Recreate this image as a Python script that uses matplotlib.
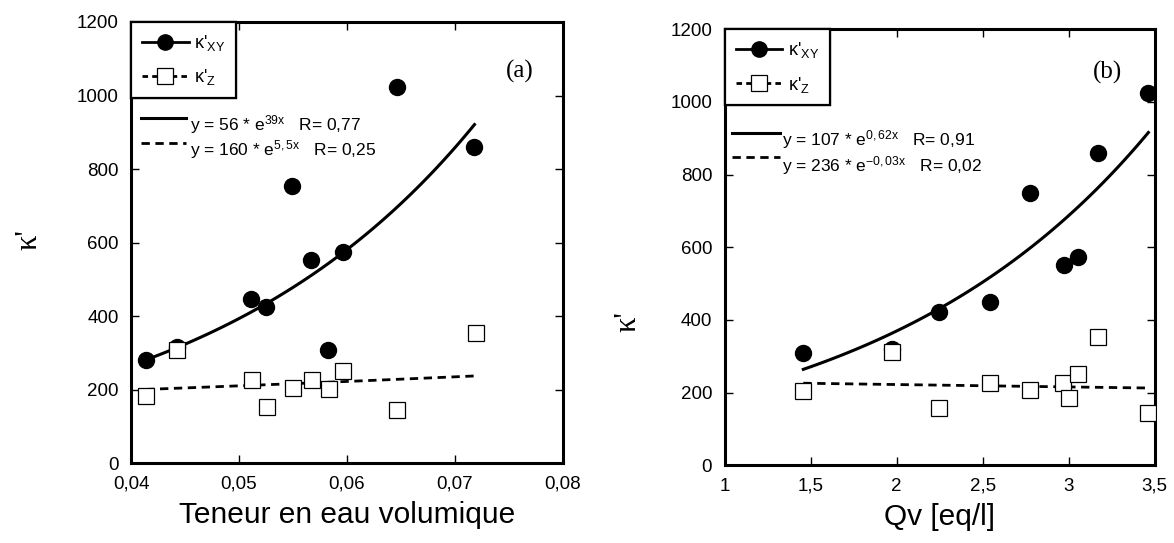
import numpy as np
import matplotlib
matplotlib.use("Agg")
import matplotlib.pyplot as plt
from matplotlib.lines import Line2D
from matplotlib.ticker import FuncFormatter, MultipleLocator

plt.rcParams['font.family'] = ['Liberation Sans', 'DejaVu Sans']
plt.rcParams['mathtext.fontset'] = 'custom'
plt.rcParams['mathtext.rm'] = 'Liberation Sans'
plt.rcParams['mathtext.it'] = 'Liberation Sans:italic'

# (a) teneur en eau volumique
theta_xy = [0.0414, 0.0443, 0.0511, 0.0525, 0.0549, 0.0567, 0.0582, 0.0596, 0.0646, 0.0718]
kxy_a = [282, 316, 448, 424, 753, 552, 307, 574, 1024, 861]
theta_z = [0.0414, 0.0443, 0.0512, 0.0526, 0.0550, 0.0568, 0.0583, 0.0596, 0.0646, 0.0719]
kz_a = [183, 309, 226, 154, 204, 227, 203, 250, 145, 353]

# (b) Qv
qv_xy = [1.457, 1.975, 2.247, 2.542, 2.775, 2.973, 3.052, 3.172, 3.463]
kxy_b = [308, 320, 421, 449, 750, 552, 574, 860, 1024]
qv_z = [1.457, 1.975, 2.245, 2.542, 2.775, 2.969, 3.004, 3.052, 3.172, 3.463]
kz_b = [205, 313, 157, 227, 207, 227, 184, 250, 354, 143]

# fits y = a * exp(b x)
fit_a = {'xy': (56, 39), 'z': (160, 5.5)}
fit_b = {'xy': (107, 0.62), 'z': (236, -0.03)}
eq_a = [r"y = 56 * e$^{\mathrm{39x}}$   R= 0,77", r"y = 160 * e$^{\mathrm{5,5x}}$   R= 0,25"]
eq_b = [r"y = 107 * e$^{\mathrm{0,62x}}$   R= 0,91", r"y = 236 * e$^{\mathrm{-0,03x}}$   R= 0,02"]


def comma(v, pos):
    s = f"{v:g}"
    return s.replace('.', ',')


def style(ax, xlim, xstep, xlabel):
    ax.set_xlim(*xlim)
    ax.set_ylim(0, 1200)
    ax.xaxis.set_major_locator(MultipleLocator(xstep))
    ax.yaxis.set_major_locator(MultipleLocator(200))
    ax.xaxis.set_major_formatter(FuncFormatter(comma))
    ax.tick_params(direction='in', length=6, width=1, top=True, right=True,
                   labelsize=13.5, pad=9)
    for sp in ax.spines.values():
        sp.set_linewidth(2.2)
    ax.set_xlabel(xlabel, fontsize=21.5, labelpad=6)


def draw(ax, xs1, ys1, xs2, ys2, fit, eqs, eqpos):
    ax.plot(xs1, ys1, 'o', color='k', ms=11.5, zorder=3)
    ax.plot(xs2, ys2, 's', mfc='white', mec='k', mew=0.9, ms=11, zorder=4)
    a, b = fit['xy']
    xx = np.linspace(min(xs1), max(xs1), 100)
    ax.plot(xx, a * np.exp(b * xx), '-', color='k', lw=2.2, zorder=2)
    a, b = fit['z']
    xx = np.linspace(min(xs2), max(xs2), 100)
    ax.plot(xx, a * np.exp(b * xx), '--', color='k', lw=2.0, dashes=(3, 2), zorder=2)

    h1 = Line2D([], [], color='k', lw=2, marker='o', ms=11)
    h2 = Line2D([], [], color='k', lw=2, ls='--', dashes=(2, 1.5), marker='s',
                mfc='white', mec='k', mew=0.9, ms=11)
    leg = ax.legend([h1, h2], [r"κ'$_{\mathrm{XY}}$", r"κ'$_{\mathrm{Z}}$"],
                    loc='upper left', borderaxespad=0, fancybox=False,
                    edgecolor='k', framealpha=1, fontsize=13, handlelength=2.6,
                    handletextpad=0.3, labelspacing=0.8, borderpad=0.6)
    leg.get_frame().set_linewidth(1.6)
    ax.add_artist(leg)

    (l1y, t1y, l2y, t2y, x0, x1, tx) = eqpos
    ax.plot([x0, x1], [l1y, l1y], '-', color='k', lw=2.2, transform=ax.transAxes)
    ax.plot([x0, x1], [l2y, l2y], '--', color='k', lw=2.0, dashes=(3, 2),
            transform=ax.transAxes)
    ax.text(tx, t1y, eqs[0], transform=ax.transAxes, fontsize=12.5, va='center')
    ax.text(tx, t2y, eqs[1], transform=ax.transAxes, fontsize=12.5, va='center')


fig = plt.figure(figsize=(11.74, 5.43), dpi=100)
ax1 = fig.add_axes([0.1116, 0.1468, 0.368, 0.8127])
ax2 = fig.add_axes([0.6173, 0.1431, 0.3663, 0.803])

draw(ax1, theta_xy, kxy_a, theta_z, kz_a, fit_a, eq_a,
     (0.782, 0.768, 0.726, 0.712, 0.022, 0.127, 0.136))
style(ax1, (0.04, 0.08), 0.01, "Teneur en eau volumique")
ax1.text(0.9, 0.887, "(a)", transform=ax1.transAxes, fontsize=18,
         family='Liberation Serif', ha='center', va='center')

draw(ax2, qv_xy, kxy_b, qv_z, kz_b, fit_b, eq_b,
     (0.763, 0.746, 0.706, 0.688, 0.016, 0.128, 0.133))
style(ax2, (1, 3.5), 0.5, "Qv [eq/l]")
ax2.text(0.891, 0.902, "(b)", transform=ax2.transAxes, fontsize=18,
         family='Liberation Serif', ha='center', va='center')

fig.text(29 / 1174, 1 - 240 / 543, "κ'", rotation=90, fontsize=22,
         family='Liberation Serif', ha='center', va='center')
fig.text(628 / 1174, 1 - 322 / 543, "κ'", rotation=90, fontsize=22,
         family='Liberation Serif', ha='center', va='center')

fig.savefig("out.png", dpi=100)
